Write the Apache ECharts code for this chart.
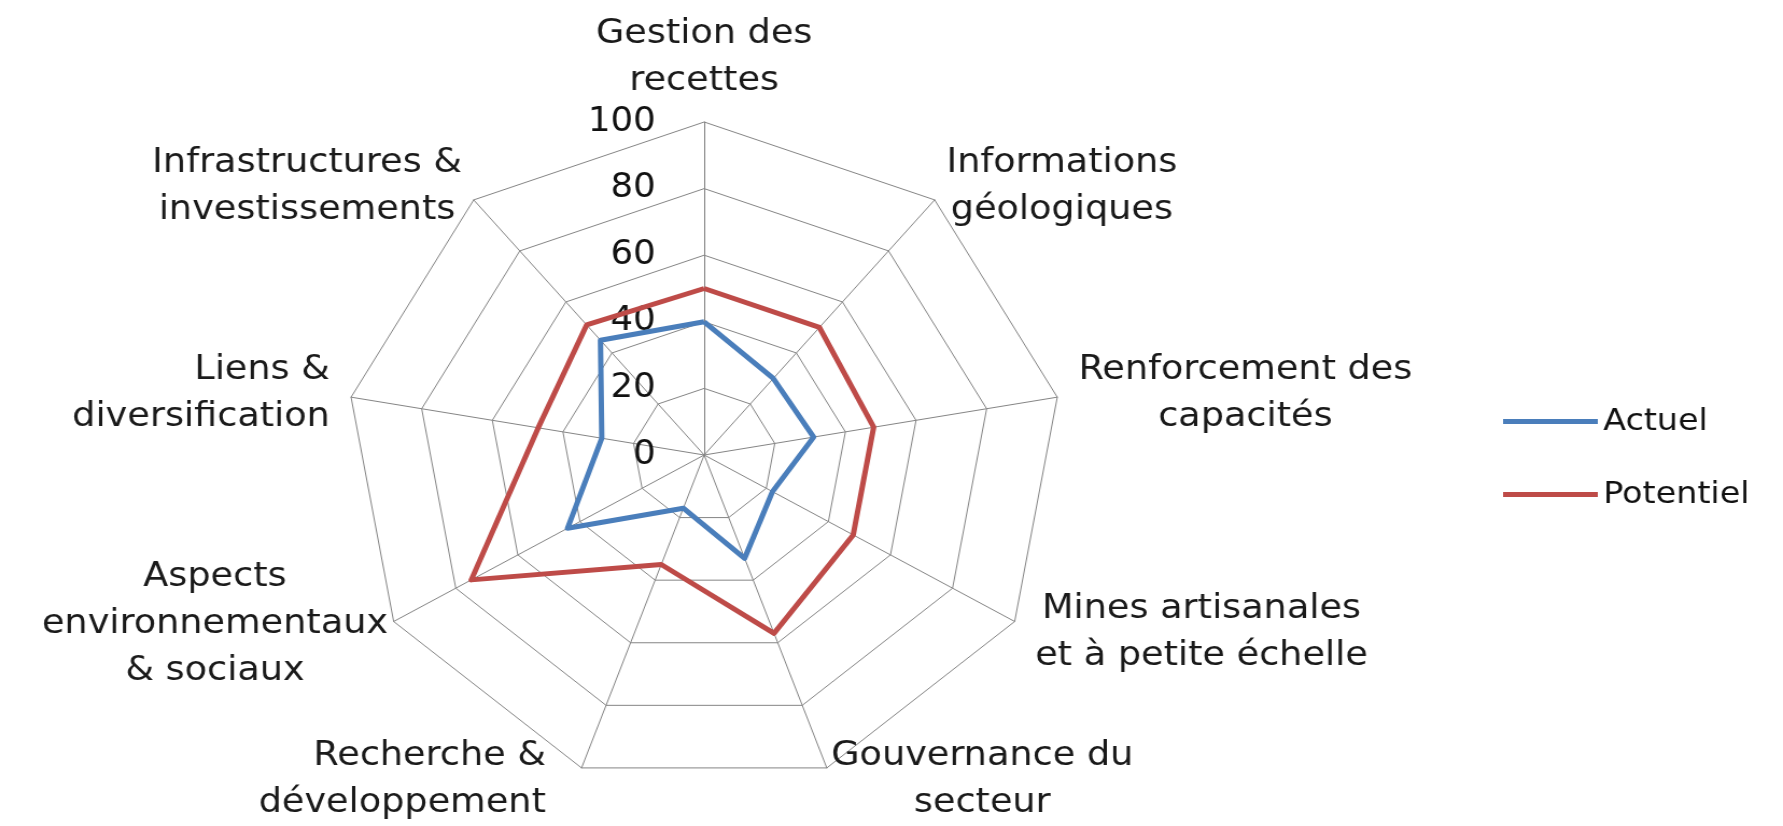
<!doctype html>
<html>

<head>
  <meta charset="utf-8">
  <title>Radar</title>
  <script src="https://cdn.jsdelivr.net/npm/echarts@6/dist/echarts.min.js"></script>
  <style>
    html,
    body {
      width: 100%;
      height: 100%;
      background-color: #fff;
      padding: 0;
      margin: 0;
      overflow: hidden;
    }

    /* the original picture is stretched sideways a little */
    #main {
      width: 1656px;
      height: 826px;
      transform: scaleX(1.0767);
      transform-origin: 0 0;
    }
  </style>
</head>

<body>
  <div id="main"></div>
</body>

<script type="text/javascript">
  // axes in clockwise order, starting at the top
  var categories = [
    'Gestion des\nrecettes',
    'Informations\ngéologiques',
    'Renforcement des\ncapacités',
    'Mines artisanales\net à petite échelle',
    'Gouvernance du\nsecteur',
    'Recherche &\ndéveloppement',
    'Aspects\nenvironnementaux\n& sociaux',
    'Liens &\ndiversification',
    'Infrastructures &\ninvestissements'
  ];
  var actuel = [40, 30, 31, 22, 33, 17, 44, 29, 45];
  var potentiel = [50, 50, 48, 48, 57, 35, 75, 47, 51];
  var seriesNames = ['Actuel', 'Potentiel'];

  var font = 'DejaVu Sans';

  // per-axis name gap and line alignment (same clockwise order)
  var nameGaps = [17, 17, 20, 22, 12, 12, 6, 20, 17];
  var lineAligns = ['c', 'c', 'c', 'c', 'c', 'r', 'c', 'r', 'c'];

  // echarts lays radar axes counter-clockwise, so keep the first and reverse the rest
  function clockwise(arr) {
    return [arr[0]].concat(arr.slice(1).reverse());
  }

  var cw = clockwise(categories.map(function (c, i) { return i; }));
  var indicator = cw.map(function (k, i) {
    var ind = {
      name: categories[k],
      min: 0,
      max: 100,
      nameGap: nameGaps[k],
      lineAlign: lineAligns[k],
      pad: k === 5
    };
    if (i === 0) ind.axisLabel = { show: true }; // tick labels only on the top axis
    return ind;
  });

  var option = {
    backgroundColor: '#fff',
    color: ['#4A7EBB', '#BE4B48'],
    legend: {
      orient: 'vertical',
      left: 1391,
      top: 401,
      icon: 'rect',
      itemWidth: 88,
      itemHeight: 5,
      itemGap: 42,
      textStyle: {
        fontSize: 31,
        fontFamily: font,
        color: '#111'
      },
      data: seriesNames
    },
    radar: {
      center: [654, 455],
      radius: 333,
      startAngle: 90,
      shape: 'polygon',
      splitNumber: 5,
      nameGap: 17,
      axisName: {
        color: '#1a1a1a',
        fontSize: 34,
        lineHeight: 47,
        fontFamily: font,
        formatter: function (name, ind) {
          var st = ind.lineAlign || 'c';
          return name.split('\n').map(function (l) {
            return '{' + st + '|' + l + '}' + (ind.pad ? '{sp|}' : '');
          }).join('\n');
        },
        rich: {
          c: { align: 'center' },
          r: { align: 'right' },
          sp: { width: 29, align: 'right' }
        }
      },
      axisLine: {
        lineStyle: { color: '#858585', width: 1 }
      },
      splitLine: {
        lineStyle: { color: '#858585', width: 1 }
      },
      splitArea: { show: false },
      axisLabel: {
        show: false,
        color: '#111',
        fontSize: 33,
        fontFamily: font,
        margin: 45
      },
      indicator: indicator
    },
    series: [{
      type: 'radar',
      symbol: 'none',
      lineStyle: { width: 5 },
      data: [
        { name: seriesNames[0], value: clockwise(actuel) },
        { name: seriesNames[1], value: clockwise(potentiel) }
      ]
    }]
  };

  var myChart = echarts.init(document.getElementById('main'));
  myChart.setOption(option);
</script>

</html>
